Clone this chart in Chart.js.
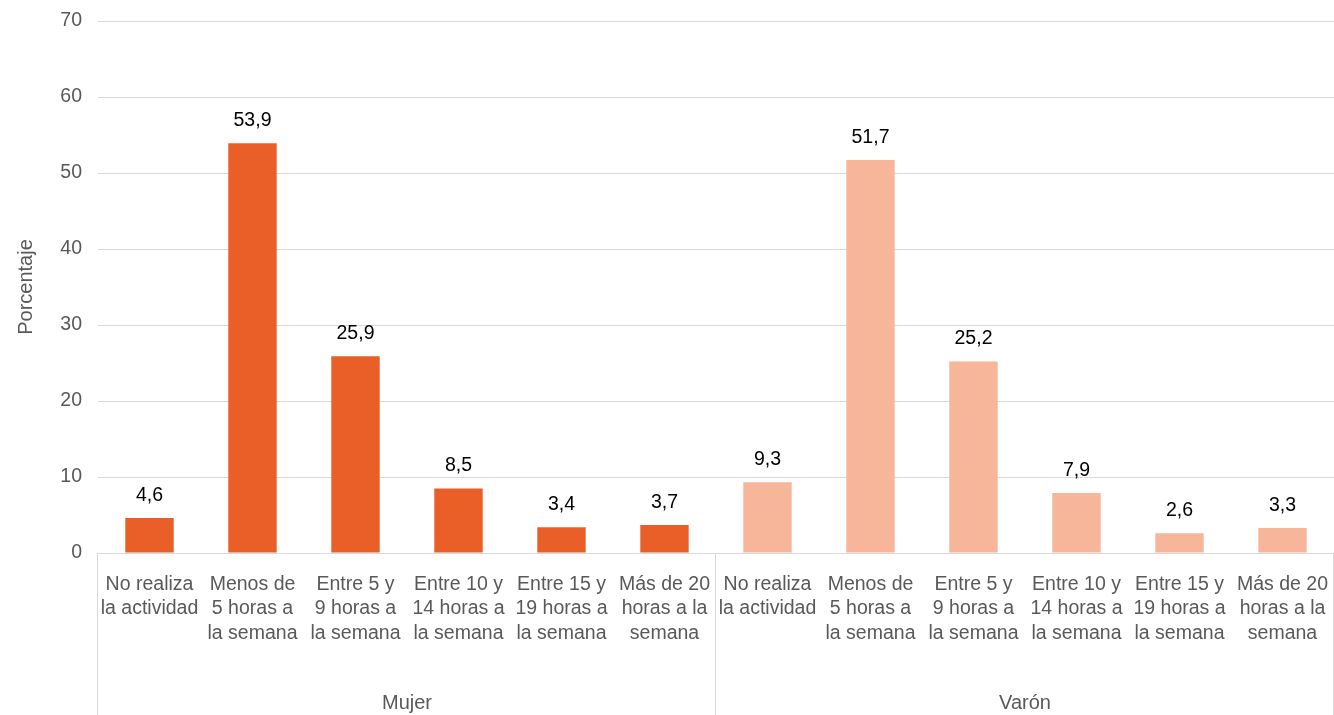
<!DOCTYPE html>
<html>
<head>
<meta charset="utf-8">
<script src="https://cdn.jsdelivr.net/npm/chart.js@4"></script>
<style>
  html, body { margin: 0; padding: 0; background: #fff; }
  #wrap { width: 1334px; height: 715px; }
</style>
</head>
<body>
<div id="wrap"><canvas id="horasChart"></canvas></div>
<script>
const categorias = [
	["No realiza", "la actividad"],
	["Menos de", "5 horas a", "la semana"],
	["Entre 5 y", "9 horas a", "la semana"],
	["Entre 10 y", "14 horas a", "la semana"],
	["Entre 15 y", "19 horas a", "la semana"],
	["Más de 20", "horas a la", "semana"],
];
const grupos = ["Mujer", "Varón"];
const mujer = [4.6, 53.9, 25.9, 8.5, 3.4, 3.7];
const varon = [9.3, 51.7, 25.2, 7.9, 2.6, 3.3];
const yTicks = [0, 10, 20, 30, 40, 50, 60, 70];

const colorMujer = "#EA5E27";
const colorVaron = "#F7B69A";
const gris = "#595959";
const linea = "#D9D9D9";
const fuente = "'Liberation Sans', Arial, Helvetica, sans-serif";

// one label per bar, both groups in a row
var labels = categorias.concat(categorias);
var valores = mujer.concat(varon);
var colores = mujer.map(() => colorMujer).concat(varon.map(() => colorVaron));

const etiquetasValor = {
	id: "etiquetasValor",
	afterDatasetsDraw(chart) {
		const ctx = chart.ctx;
		const meta = chart.getDatasetMeta(0);
		ctx.save();
		ctx.font = "19.5px " + fuente;
		ctx.fillStyle = "#000";
		ctx.textAlign = "center";
		ctx.textBaseline = "bottom";
		meta.data.forEach((bar, i) => {
			ctx.fillText(valores[i].toFixed(1).replace(".", ","), bar.x, bar.y - 13);
		});
		ctx.restore();
	},
};

const gruposEje = {
	id: "gruposEje",
	afterDraw(chart) {
		const ctx = chart.ctx;
		const x = chart.scales.x;
		const area = chart.chartArea;
		const n = categorias.length;
		const half = (x.getPixelForValue(1) - x.getPixelForValue(0)) / 2;
		ctx.save();
		ctx.strokeStyle = linea;
		ctx.lineWidth = 1;
		const bordes = [];
		for (let g = 0; g <= grupos.length; g++) {
			bordes.push(g * n < labels.length ? x.getPixelForValue(g * n) - half : x.getPixelForValue(labels.length - 1) + half);
		}
		bordes.forEach((bx) => {
			const px = Math.min(Math.round(bx), chart.width) - 0.5;
			ctx.beginPath();
			ctx.moveTo(px, area.bottom);
			ctx.lineTo(px, chart.height);
			ctx.stroke();
		});
		ctx.font = "20px " + fuente;
		ctx.fillStyle = gris;
		ctx.textAlign = "center";
		ctx.textBaseline = "middle";
		grupos.forEach((g, i) => {
			ctx.fillText(g, (bordes[i] + bordes[i + 1]) / 2, 703);
		});
		ctx.restore();
	},
};

const myChartHoras = new Chart(document.getElementById("horasChart").getContext("2d"), {
	type: "bar",
	data: {
		labels: labels,
		datasets: [
			{
				data: valores,
				backgroundColor: colores,
				barPercentage: 0.47,
				categoryPercentage: 1,
			},
		],
	},
	options: {
		responsive: true,
		maintainAspectRatio: false,
		animation: false,
		layout: { padding: { top: 21, right: 0, left: 0, bottom: 0 } },
		plugins: {
			legend: { display: false },
			tooltip: { enabled: false },
		},
		scales: {
			x: {
				grid: { display: false },
				border: { color: linea, width: 1 },
				ticks: {
					color: gris,
					autoSkip: false,
					maxRotation: 0,
					padding: 11,
					font: { family: fuente, size: 19.5, lineHeight: 1.26 },
				},
				afterFit(scale) {
					scale.height = 162;
					scale.paddingLeft = 0;
					scale.paddingRight = 0;
				},
			},
			y: {
				min: 0,
				max: 70,
				afterBuildTicks(scale) {
					scale.ticks = yTicks.map((v) => ({ value: v }));
				},
				grid: { color: linea, lineWidth: 1, drawTicks: false },
				border: { display: false },
				ticks: {
					color: gris,
					padding: 16,
					font: { family: fuente, size: 19.5 },
				},
				title: {
					display: true,
					text: "Porcentaje",
					color: gris,
					font: { family: fuente, size: 20 },
					padding: { top: 14, bottom: 0 },
				},
				afterFit(scale) {
					scale.width = 98;
					scale.paddingTop = 0;
					scale.paddingBottom = 0;
				},
			},
		},
	},
	plugins: [etiquetasValor, gruposEje],
});
</script>
</body>
</html>
